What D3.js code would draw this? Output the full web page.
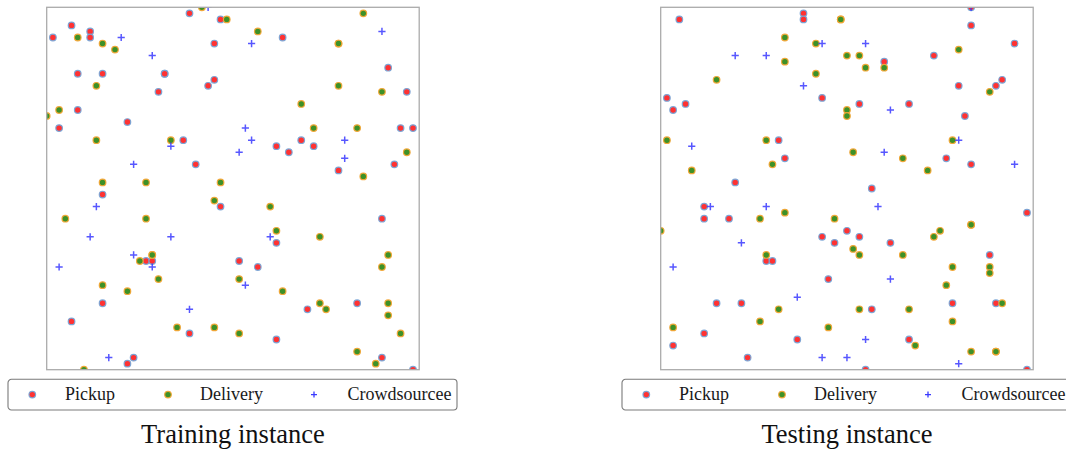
<!DOCTYPE html>
<html>
<head>
<meta charset="utf-8">
<script src="https://cdn.jsdelivr.net/npm/d3@7"></script>
<style>
  body { margin: 0; background: #fff; }
  svg { display: block; }
</style>
</head>
<body>
<svg id="chart" width="1066" height="450"></svg>
<script>
// Grid coordinates (0..60 on both axes) of every node in the two instances.
const trainPickup = [
  [23,59],[4,57],[7,56],[1,55],[7,55],[28,58],[27,54],[5,49],[9,49],[19,49],[19,49],[27,48],[26,47],[18,46],[5,43],[2,40],[13,41],[22,38],[24,34],
  [38,55],[55,50],[58,46],[57,40],[59,40],[41,38],[37,37],[43,37],[39,36],[56,34],[47,33],
  [9,29],[28,27],[16,18],[17,18],[9,11],[4,8],[23,6],[14,2],[13,1],
  [54,25],[37,21],[31,18],[34,17],[42,10],[50,11],[37,5],[54,2],[59,0]
];
const trainDelivery = [
  [25,60],[5,55],[29,58],[9,54],[11,53],[8,47],[2,43],[0,42],[8,38],[20,38],[9,31],[16,31],[28,31],
  [51,59],[34,56],[47,54],[47,54],[47,47],[54,46],[41,44],[43,40],[50,40],[58,36],[51,32],
  [27,28],[3,25],[16,25],[17,19],[17,19],[15,18],[18,15],[9,14],[13,13],[21,7],[27,7],[6,0],
  [36,27],[37,23],[44,22],[55,19],[54,17],[31,15],[38,13],[44,11],[45,10],[55,11],[55,9],[31,6],[57,6],[50,3],[53,1]
];
const trainCrowd = [
  [26,60],[12,55],[17,52],[20,37],[14,34],
  [54,56],[33,54],[32,40],[33,38],[48,38],[31,36],[48,35],
  [8,27],[7,22],[20,22],[14,19],[17,17],[2,17],[23,10],[10,2],
  [36,22],[32,14]
];

const testPickup = [
  [3,58],[23,59],[23,58],[1,45],[26,45],[2,43],[4,44],[19,38],[20,35],[12,31],
  [50,60],[50,57],[57,54],[36,51],[44,52],[48,47],[55,48],[54,47],[32,44],[40,44],[49,42],[46,35],[50,34],[34,30],
  [7,27],[7,25],[11,25],[30,23],[26,22],[28,21],[17,18],[18,18],[27,15],[9,11],[13,11],[7,6],[22,5],[2,4],[14,2],
  [59,26],[32,22],[37,21],[53,19],[47,11],[54,11],[34,10],[40,5],[33,0],[59,0]
];
const testDelivery = [
  [29,58],[29,58],[20,55],[25,54],[30,52],[20,51],[9,48],[25,49],[30,43],[30,42],[1,38],[17,38],[18,34],[5,33],[31,36],
  [32,52],[33,50],[36,50],[48,53],[53,46],[47,38],[39,35],[43,33],
  [20,26],[16,25],[28,25],[0,23],[17,19],[19,10],[16,8],[2,7],[27,7],
  [50,24],[50,24],[45,23],[44,22],[31,20],[32,19],[39,19],[47,17],[53,17],[53,16],[46,14],[55,11],[32,10],[40,10],[47,8],[41,4],[50,3],[54,3],[54,3]
];
const testCrowd = [
  [26,54],[12,52],[17,52],[23,47],[5,37],
  [50,60],[33,54],[37,43],[48,38],[36,36],[57,34],
  [8,27],[17,27],[13,21],[2,17],[22,12],[26,2],[30,2],
  [35,27],[37,15],[33,5],[48,1]
];

const legendLabels = ["Pickup", "Delivery", "Crowdsourcee"];
const panelTitles = ["Training instance", "Testing instance"];

const svg = d3.select("#chart");
svg.append("rect").attr("width", 1066).attr("height", 450).attr("fill", "#fff");

const W = 372.5, H = 362.4, TOP = 7.3;
const SERIF = "'Liberation Serif', 'Times New Roman', serif";

const style = {
  pickup:   { fill: "#ff3232", stroke: "#78a4d6" },
  delivery: { fill: "#3d9128", stroke: "#f2a534" },
  crowd:    { stroke: "#3a3aff" }
};

function drawCircle(sel, s) {
  return sel.attr("r", 3.3)
    .attr("fill", s.fill)
    .attr("stroke", s.stroke).attr("stroke-width", 1.2).attr("stroke-opacity", 0.95);
}
function plusPath(cx, cy, a) {
  return `M${cx - a},${cy}H${cx + a}M${cx},${cy - a}V${cy + a}`;
}

function drawPanel(idx, left, pick, deli, crowd) {
  const x = d3.scaleLinear().domain([0, 60]).range([0, W]);
  const y = d3.scaleLinear().domain([0, 60]).range([H, 0]);
  const g = svg.append("g").attr("transform", `translate(${left},${TOP})`);

  const clipId = "clip" + idx;
  g.append("clipPath").attr("id", clipId)
    .append("rect").attr("width", W).attr("height", H);

  const plot = g.append("g").attr("clip-path", `url(#${clipId})`);

  plot.selectAll("circle.pickup").data(pick).join("circle")
    .attr("class", "pickup")
    .attr("cx", d => x(d[0])).attr("cy", d => y(d[1]))
    .call(drawCircle, style.pickup);

  plot.selectAll("circle.delivery").data(deli).join("circle")
    .attr("class", "delivery")
    .attr("cx", d => x(d[0])).attr("cy", d => y(d[1]))
    .call(drawCircle, style.delivery);

  plot.selectAll("path.crowd").data(crowd).join("path")
    .attr("class", "crowd")
    .attr("d", d => plusPath(x(d[0]), y(d[1]), 3.6))
    .attr("stroke", style.crowd.stroke).attr("stroke-width", 1.5)
    .attr("stroke-opacity", 0.85).attr("fill", "none");

  // frame
  g.append("rect").attr("width", W).attr("height", H)
    .attr("fill", "none").attr("stroke", "#ababab").attr("stroke-width", 1.3);

  // legend
  const lg = svg.append("g").attr("transform", `translate(${left - 38.7},379.3)`);
  lg.append("rect").attr("width", 449).attr("height", 30.7).attr("rx", 3.5)
    .attr("fill", "#fff").attr("stroke", "#7a7a7a").attr("stroke-width", 1.1);
  const cy = 15.3;
  const markerX = [24.3, 160, 306];
  const textX = [57, 192, 339.5];
  lg.append("circle").attr("cx", markerX[0]).attr("cy", cy).call(drawCircle, style.pickup);
  lg.append("circle").attr("cx", markerX[1]).attr("cy", cy).call(drawCircle, style.delivery);
  lg.append("path").attr("d", plusPath(markerX[2], cy, 3))
    .attr("stroke", style.crowd.stroke).attr("stroke-width", 1.3).attr("fill", "none");
  lg.selectAll("text").data(legendLabels).join("text")
    .attr("x", (d, i) => textX[i]).attr("y", cy + 5.8)
    .attr("font-family", SERIF).attr("font-size", 18).attr("fill", "#1a1a1a")
    .text(d => d);

  // title
  svg.append("text")
    .attr("x", left + W / 2).attr("y", 442.5)
    .attr("text-anchor", "middle")
    .attr("font-family", SERIF).attr("font-size", 26.5).attr("fill", "#111")
    .text(panelTitles[idx]);
}

drawPanel(0, 46.7, trainPickup, trainDelivery, trainCrowd);
drawPanel(1, 660.7, testPickup, testDelivery, testCrowd);
</script>
</body>
</html>
